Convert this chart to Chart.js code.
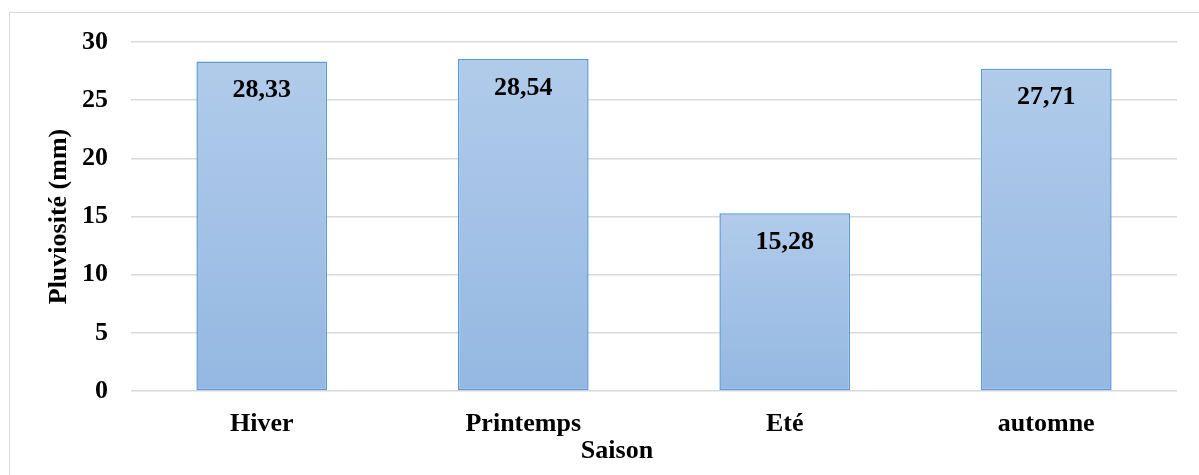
<!DOCTYPE html>
<html>
<head>
<meta charset="utf-8">
<script src="https://cdn.jsdelivr.net/npm/chart.js@4.4.1/dist/chart.umd.min.js"></script>
<style>
  html, body { margin: 0; padding: 0; background: #fff; overflow: hidden; }
  #wrap { position: relative; width: 1199px; height: 475px; }
  #frame { position: absolute; left: 9px; top: 12px; width: 1230px; height: 500px;
           border: 1.5px solid #d9d9d9; box-sizing: border-box; }
  #c { position: absolute; left: 0; top: 0; }
</style>
</head>
<body>
<div id="wrap">
  <div id="frame"></div>
  <canvas id="c" width="1199" height="475"></canvas>
</div>
<script>
// Pluviosité moyenne par saison
const saisons = ['Hiver', 'Printemps', 'Eté', 'automne'];
const pluviosite = [28.33, 28.54, 15.28, 27.71];
const yTicks = [0, 5, 10, 15, 20, 25, 30];
const xTitle = 'Saison';
const yTitle = 'Pluviosité (mm)';

const FONT = "'Liberation Serif', 'Times New Roman', serif";
const SIZE = 26;

function barGradient(ctx) {
  const chart = ctx.chart;
  const y = chart.scales && chart.scales.y;
  if (!y || ctx.dataIndex === undefined) return '#a4c2e6';
  const top = y.getPixelForValue(ctx.raw);
  const bottom = y.getPixelForValue(0);
  if (!isFinite(top) || !isFinite(bottom) || top === bottom) return '#a4c2e6';
  const g = chart.ctx.createLinearGradient(0, top, 0, bottom);
  g.addColorStop(0, '#b1cbea');
  g.addColorStop(1, '#94b8e2');
  return g;
}

// Value labels inside the top of each bar
const valueLabels = {
  id: 'valueLabels',
  afterDatasetsDraw(chart) {
    const ctx = chart.ctx;
    const meta = chart.getDatasetMeta(0);
    ctx.save();
    ctx.font = 'bold ' + SIZE + 'px ' + FONT;
    ctx.fillStyle = '#000';
    ctx.textAlign = 'center';
    ctx.textBaseline = 'middle';
    meta.data.forEach((bar, i) => {
      const txt = pluviosite[i].toFixed(2).replace('.', ',');
      ctx.fillText(txt, bar.x, bar.y + 29);
    });
    ctx.restore();
  }
};

// Horizontal axis title, placed under the category labels
const axisTitleX = {
  id: 'axisTitleX',
  afterDraw(chart, args, opts) {
    const ctx = chart.ctx;
    ctx.save();
    ctx.font = 'bold ' + SIZE + 'px ' + FONT;
    ctx.fillStyle = '#000';
    ctx.textAlign = 'center';
    ctx.textBaseline = 'alphabetic';
    ctx.fillText(xTitle, opts.x, opts.y);
    ctx.restore();
  }
};

new Chart(document.getElementById('c'), {
  type: 'bar',
  data: {
    labels: saisons,
    datasets: [{
      data: pluviosite,
      backgroundColor: barGradient,
      borderColor: '#5b9bd5',
      borderWidth: 1.5,
      borderSkipped: false,
      categoryPercentage: 1.0,
      barPercentage: 0.5
    }]
  },
  plugins: [valueLabels, axisTitleX],
  options: {
    responsive: false,
    animation: false,
    devicePixelRatio: 1,
    layout: { padding: { top: 42, right: 22, bottom: 0, left: 0 } },
    plugins: {
      legend: { display: false },
      tooltip: { enabled: false },
      axisTitleX: { x: 617, y: 458 }
    },
    scales: {
      x: {
        grid: { display: false, drawTicks: false },
        border: { display: false },
        ticks: {
          color: '#000',
          padding: 18,
          font: { family: FONT, size: SIZE, weight: 'bold' }
        },
        afterFit(scale) { scale.height = 84; }
      },
      y: {
        min: 0,
        max: 30,
        afterBuildTicks(scale) { scale.ticks = yTicks.map(v => ({ value: v })); },
        grid: { color: '#d9d9d9', lineWidth: 1.5, drawTicks: false },
        border: { display: false },
        ticks: {
          color: '#000',
          padding: 23,
          font: { family: FONT, size: SIZE, weight: 'bold' }
        },
        title: {
          display: true,
          text: yTitle,
          color: '#000',
          padding: { top: 44, bottom: 0 },
          font: { family: FONT, size: SIZE, weight: 'bold' }
        },
        afterFit(scale) { scale.width = 131; }
      }
    }
  }
});
</script>
</body>
</html>
